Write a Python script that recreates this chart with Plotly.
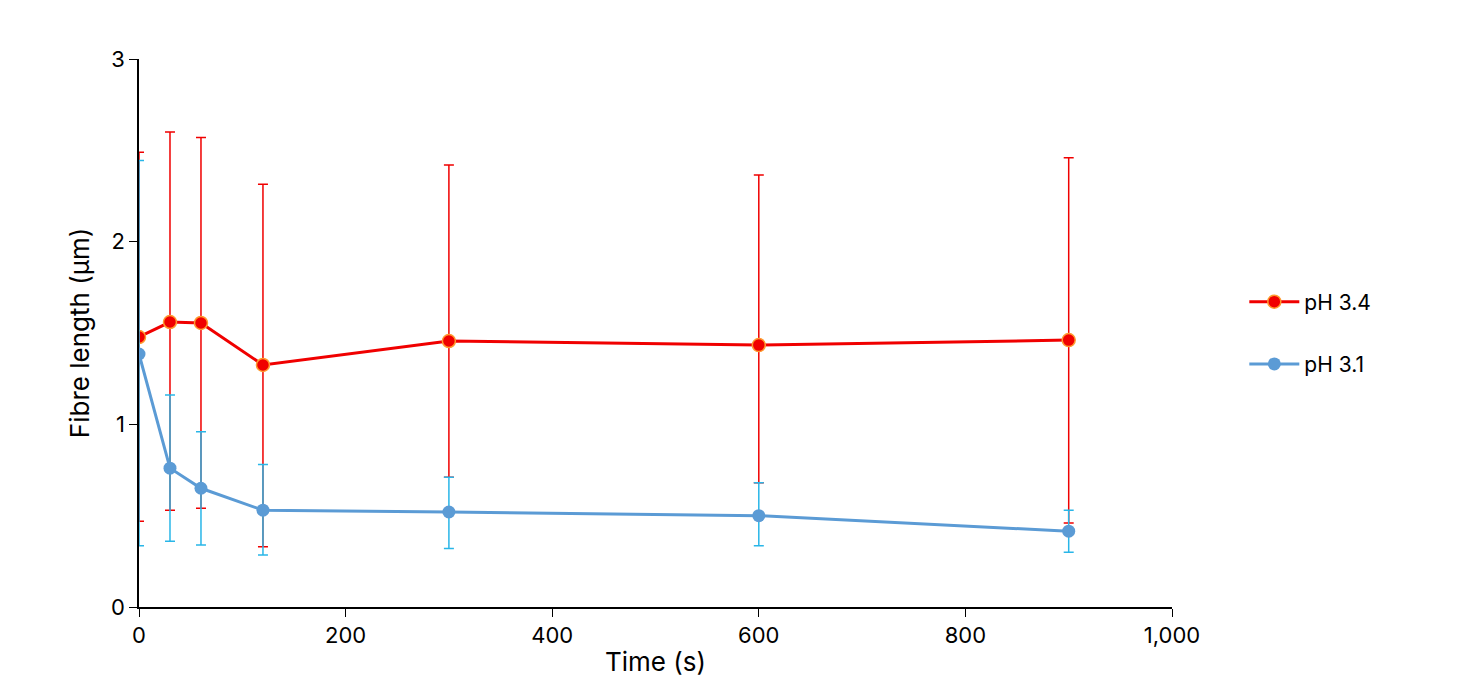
import plotly.graph_objects as go

# Data
time_s = [0, 30, 60, 120, 300, 600, 900]

ph34_mean = [1.478, 1.56, 1.555, 1.325, 1.456, 1.434, 1.461]
ph34_upper = [2.49, 2.60, 2.57, 2.315, 2.42, 2.365, 2.46]
ph34_lower = [0.47, 0.53, 0.54, 0.33, 0.71, 0.68, 0.46]

ph31_mean = [1.385, 0.76, 0.65, 0.53, 0.52, 0.50, 0.415]
ph31_upper = [2.445, 1.16, 0.96, 0.78, 0.71, 0.68, 0.53]
ph31_lower = [0.335, 0.36, 0.34, 0.285, 0.32, 0.335, 0.30]

x_ticks = [0, 200, 400, 600, 800, 1000]
x_tick_text = ['0', '200', '400', '600', '800', '1,000']


def err(mean, upper, lower):
    return dict(type='data', symmetric=False,
                array=[u - m for u, m in zip(upper, mean)],
                arrayminus=[m - l for m, l in zip(mean, lower)])


fig = go.Figure()
fig.add_trace(go.Scatter(
    x=time_s, y=ph34_mean, name='pH 3.4', mode='lines+markers', legendgroup='a',
    line=dict(color='#F00000', width=3),
    marker=dict(color='#F00000', size=13, line=dict(color='#FF9A2E', width=1.5)),
    error_y=dict(**err(ph34_mean, ph34_upper, ph34_lower), color='#F00000', thickness=1.5, width=5)))
fig.add_trace(go.Scatter(
    x=time_s, y=ph31_mean, name='pH 3.1', mode='lines+markers', legendgroup='b',
    line=dict(color='#5B9BD5', width=3),
    marker=dict(color='#5B9BD5', size=13),
    error_y=dict(**err(ph31_mean, ph31_upper, ph31_lower), color='#29B6E8', thickness=1.5, width=5)))

fig.update_layout(
    width=1458, height=692,
    plot_bgcolor='white', paper_bgcolor='white',
    margin=dict(l=131, r=294, t=51, b=93),
    font=dict(family='Inter, Roboto, sans-serif', size=22, color='black'),
    legend=dict(x=1.07, y=0.5, yanchor='middle', font=dict(size=21),
                itemwidth=50, tracegroupgap=32),
)
fig.update_xaxes(range=[0, 1000], tickvals=x_ticks, ticktext=x_tick_text,
                 showline=True, linecolor='black', linewidth=1.5, ticks='outside',
                 ticklen=8, tickcolor='black', showgrid=False, zeroline=False,
                 title=dict(text='Time (s)', standoff=6))
fig.update_yaxes(range=[0, 3], tickvals=[0, 1, 2, 3],
                 showline=True, linecolor='black', linewidth=1.5, ticks='outside',
                 ticklen=8, tickcolor='black', showgrid=False, zeroline=False,
                 title=dict(text='Fibre length (µm)', standoff=14))

fig.write_html('out.html')
